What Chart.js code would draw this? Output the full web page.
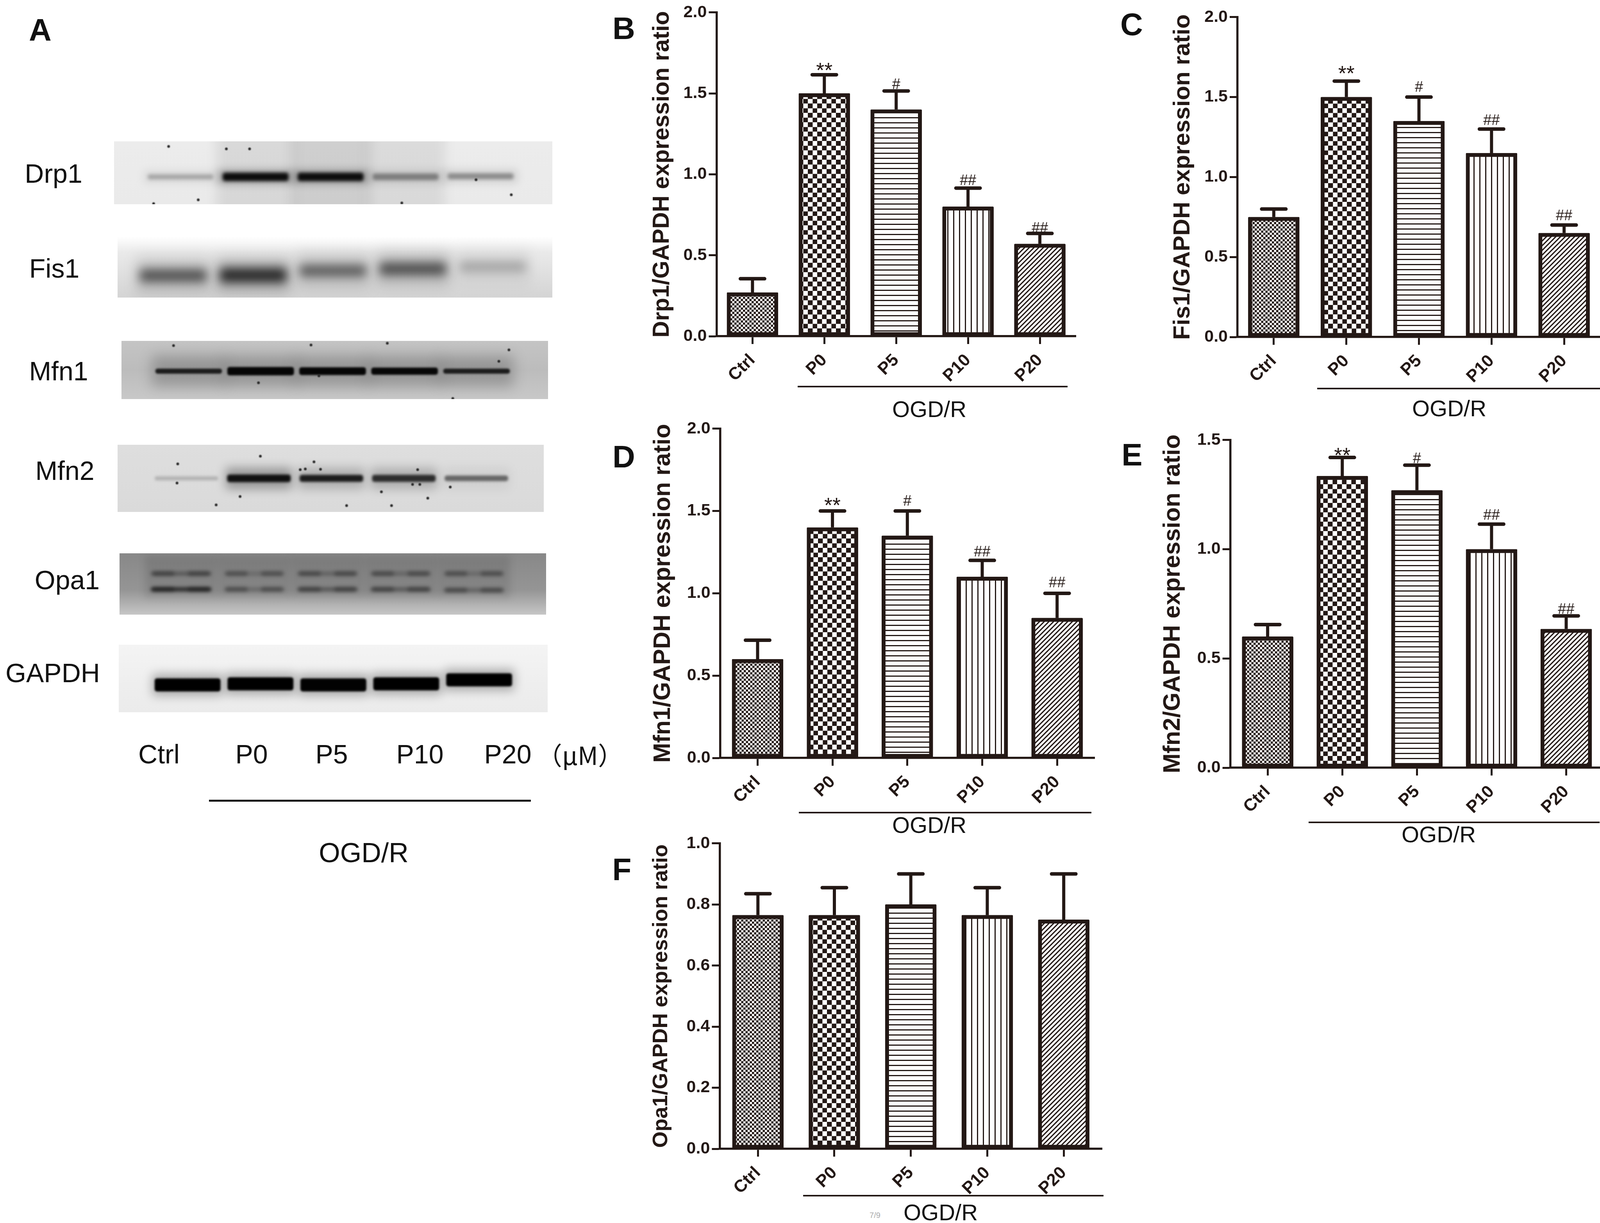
<!DOCTYPE html>
<html><head><meta charset="utf-8">
<style>
html,body{margin:0;padding:0;background:#fff}
#page{position:relative;width:4122px;height:3132px;overflow:hidden;background:#fff;font-family:"Liberation Sans",Arial,sans-serif;color:#111}
canvas{position:absolute;display:block}
.t{position:absolute;white-space:nowrap;line-height:1;transform:translateX(-50%)}
.l{position:absolute}
</style>
<script src="https://cdn.jsdelivr.net/npm/chart.js@4"></script>
</head><body><div id="page"></div>
<script>
// ---------- bar chart data ----------
const categories = ['Ctrl','P0','P5','P10','P20'];
const drp1Values = [0.27,1.50,1.40,0.80,0.57];
const drp1ErrTop = [0.355,1.615,1.515,0.915,0.635];
const fis1Values = [0.75,1.50,1.35,1.15,0.65];
const fis1ErrTop = [0.80,1.60,1.50,1.30,0.70];
const mfn1Values = [0.60,1.40,1.35,1.10,0.85];
const mfn1ErrTop = [0.715,1.50,1.50,1.20,1.00];
const mfn2Values = [0.60,1.335,1.27,1.00,0.635];
const mfn2ErrTop = [0.655,1.42,1.385,1.115,0.695];
const opa1Values = [0.765,0.765,0.80,0.765,0.75];
const opa1ErrTop = [0.835,0.855,0.90,0.855,0.90];
const sigMarks = ['','**','#','##','##'];
const noMarks = ['','','','',''];
const yLabelDrp1 = 'Drp1/GAPDH expression ratio';
const yLabelFis1 = 'Fis1/GAPDH expression ratio';
const yLabelMfn1 = 'Mfn1/GAPDH expression ratio';
const yLabelMfn2 = 'Mfn2/GAPDH expression ratio';
const yLabelOpa1 = 'Opa1/GAPDH expression ratio';

// ---------- western blot band data (lanes 1-5; y = fraction of strip height) ----------
const laneNumbers = [1,2,3,4,5];
const drp1Band = [.565,.565,.565,.565,.555];
const drp1Half = [.04,.065,.065,.05,.045];
const drp1Tone = ['#a6a6a6','#0c0c0c','#0c0c0c','#7c7c7c','#8c8c8c'];
const fis1Band = [.64,.635,.56,.53,.495];
const fis1Half = [.10,.115,.09,.10,.08];
const fis1Tone = ['#4e4e4e','#262626','#565656','#4a4a4a','#a0a0a0'];
const mfn1Band = [.52,.52,.52,.52,.52];
const mfn1Half = [.042,.07,.065,.06,.042];
const mfn1Tone = ['#1c1c1c','#050505','#050505','#070707','#1c1c1c'];
const mfn2Band = [.50,.50,.50,.50,.50];
const mfn2Half = [.03,.055,.05,.05,.04];
const mfn2Tone = ['#b4b4b4','#101010','#1c1c1c','#2c2c2c','#666666'];
const opa1BandUpper = [.33,.33,.33,.33,.33];
const opa1ToneUpper = ['#5c5c5c','#6c6c6c','#646464','#666666','#6a6a6a'];
const opa1BandLower = [.587,.587,.587,.587,.60];
const opa1ToneLower = ['#343434','#6c6c6c','#5c5c5c','#5e5e5e','#666666'];
const gapdhBand = [.595,.58,.595,.58,.52];
const gapdhTone = ['#000000','#000000','#020202','#000000','#000000'];
const drp1Spots = [[.84,.08],[1.61,.12],[1.92,.12],[.64,.99],[1.235,.93],[3.95,.98],[4.94,.61],[5.41,.85]];
const mfn1Spots = [[2.70,.07],[.79,.08],[1.97,.72],[5.45,.155],[3.76,.04],[2.81,.6],[5.31,.35],[4.67,.99]];
const mfn2Spots = [[.88,.285],[.87,.57],[2.76,.255],[2.57,.37],[2.64,.36],[2.85,.365],[3.69,.70],[4.33,.795],[4.64,.63],[1.74,.77],[1.41,.895],[4.12,.59],[4.22,.59],[4.19,.37],[3.21,.905],[3.83,.905],[2.02,.17]];

const INK = '#231815';
const page = document.getElementById('page');
Chart.defaults.font.family = '"Liberation Sans", Arial, sans-serif';
Chart.defaults.animation = false;
Chart.defaults.devicePixelRatio = 1;

// ---------- helpers ----------
function text(str, cx, cy, size, opts){
  opts = opts || {};
  const d = document.createElement('div');
  d.className = 't';
  d.textContent = str;
  d.style.left = cx+'px';
  d.style.top = (cy - 0.49*size)+'px';
  d.style.fontSize = size+'px';
  if(opts.bold) d.style.fontWeight = 'bold';
  if(opts.color) d.style.color = opts.color;
  if(opts.family) d.style.fontFamily = opts.family;
  page.appendChild(d);
}
function hline(x0,x1,y,w,color){
  const d = document.createElement('div');
  d.className='l';
  d.style.cssText += `left:${x0}px;top:${y-w/2}px;width:${x1-x0}px;height:${w}px;background:${color||INK}`;
  page.appendChild(d);
}
function tile(w,h,draw){
  const c = document.createElement('canvas'); c.width=w; c.height=h;
  const x = c.getContext('2d');
  x.fillStyle='#fff'; x.fillRect(0,0,w,h);
  x.fillStyle=INK; x.strokeStyle=INK;
  draw(x);
  return x.createPattern(c,'repeat');
}
function checker(n){ return tile(n*2,n*2,x=>{x.fillRect(0,0,n,n);x.fillRect(n,n,n,n);}); }
const fills = [
  checker(5.5),
  checker(12.4),
  tile(4,13,x=>x.fillRect(0,0,4,3)),
  tile(15,4,x=>x.fillRect(0,0,3,4)),
  tile(12,12,x=>{x.lineWidth=3.2;for(let i=-12;i<=24;i+=12){x.beginPath();x.moveTo(i-2,14);x.lineTo(i+14,-2);x.stroke();}})
];

// ---------- one bar panel ----------
function panel(p){
  const FONT=p.titleSize, left=p.titleCX-0.6*FONT, top=p.yTop-30, right=p.plotRight+22, bottom=p.y0+130;
  const c=document.createElement('canvas');
  c.width=Math.round(right-left); c.height=Math.round(bottom-top);
  c.style.left=left+'px'; c.style.top=top+'px';
  c.style.width=c.width+'px'; c.style.height=c.height+'px';
  page.appendChild(c);
  const errPlugin={id:'errBars',afterDatasetsDraw(ch){
    const g=ch.ctx,xs=ch.scales.x,ys=ch.scales.y;
    g.save();
    g.strokeStyle=INK; g.fillStyle=INK;
    p.errTop.forEach((e,i)=>{
      const x=xs.getPixelForValue(i),y=ys.getPixelForValue(e),v=ys.getPixelForValue(p.values[i]);
      g.lineCap='butt'; g.lineWidth=8; g.beginPath(); g.moveTo(x,v); g.lineTo(x,y); g.stroke();
      g.lineCap='round'; g.lineWidth=9; g.beginPath(); g.moveTo(x-31,y); g.lineTo(x+31,y); g.stroke();
      const m=p.marks[i];
      if(m){
        const star=m[0]==='*', size=star?54:38;
        g.font=`${size}px "Liberation Sans", Arial, sans-serif`;
        g.textAlign='center'; g.textBaseline='alphabetic';
        g.fillText(m,x+p.markDx,y-p.markGap[i]+(star?0.58:0.36)*size);
      }
    });
    g.restore();
  }};
  new Chart(c,{
    type:'bar',
    data:{labels:categories,datasets:[{data:p.values,backgroundColor:fills,borderColor:INK,borderWidth:10,borderSkipped:false,barThickness:131,borderRadius:2}]},
    plugins:[errPlugin],
    options:{
      responsive:false,maintainAspectRatio:false,
      layout:{autoPadding:false,padding:{top:30,right:22,left:0,bottom:0}},
      plugins:{legend:{display:false},tooltip:{enabled:false},title:{display:false}},
      scales:{
        x:{type:'category',offset:true,
          afterFit(s){s.height=130;},
          border:{color:INK,width:5.5},
          grid:{offset:false,drawOnChartArea:false,drawTicks:true,tickLength:20,tickWidth:5,tickColor:INK},
          ticks:{autoSkip:false,minRotation:45,maxRotation:45,padding:p.xPad||16,color:INK,font:{size:44,weight:'bold'}}
        },
        y:{type:'linear',min:0,max:p.max,
          afterFit(s){s.width=p.axisX-left;},
          title:{display:true,text:p.title,color:INK,font:{size:FONT,weight:'bold',lineHeight:1.2},padding:{top:0,bottom:0}},
          border:{color:INK,width:5.5},
          grid:{drawOnChartArea:false,drawTicks:true,tickLength:20,tickWidth:5,tickColor:INK},
          ticks:{stepSize:p.step,padding:5,color:INK,font:{size:43,weight:'bold'},callback:v=>v.toFixed(1)}
        }
      }
    }
  });
  hline(p.lineX0,p.lineX1,p.lineY,4.5);
  text('OGD/R',p.ogdX,p.ogdY,58);
}
panel({title:yLabelDrp1,values:drp1Values,errTop:drp1ErrTop,marks:sigMarks,markGap:[0,25,19,21,15],markDx:0,max:2,step:.5,
  axisX:1834,plotRight:2754,yTop:31,y0:861,titleCX:1695,titleSize:59,lineX0:2042,lineX1:2733,lineY:990,ogdX:2379,ogdY:1047});
panel({title:yLabelFis1,values:fis1Values,errTop:fis1ErrTop,marks:sigMarks,markGap:[0,33,27,24,26],markDx:0,max:2,step:.5,
  axisX:3168,plotRight:4097,yTop:43,y0:863,titleCX:3028,titleSize:60,lineX0:3372,lineX1:4099,lineY:995,ogdX:3710,ogdY:1045});
panel({title:yLabelMfn1,values:mfn1Values,errTop:mfn1ErrTop,marks:sigMarks,markGap:[0,28,27,24,29],markDx:0,max:2,step:.5,
  axisX:1844,plotRight:2802,yTop:1097,y0:1941,titleCX:1699,titleSize:61,lineX0:2045,lineX1:2794,lineY:2081,ogdX:2379,ogdY:2112});
panel({title:yLabelMfn2,values:mfn2Values,errTop:mfn2ErrTop,marks:sigMarks,markGap:[0,19,19,25,19],markDx:0,max:1.5,step:.5,
  axisX:3150,plotRight:4105,yTop:1126,y0:1966,titleCX:3004,titleSize:61,lineX0:3350,lineX1:4095,lineY:2106,ogdX:3683,ogdY:2136});
panel({title:yLabelOpa1,values:opa1Values,errTop:opa1ErrTop,marks:noMarks,markGap:[0,0,0,0,0],markDx:0,max:1,step:.2,
  axisX:1842,plotRight:2821,yTop:2159,y0:2942,titleCX:1693,titleSize:54,lineX0:2056,lineX1:2825,lineY:3062,ogdX:2408,ogdY:3104});
text('7/9',2240,3112,20,{color:'#aaaaaa'});

// ---------- western blot strips, each a small Chart.js chart ----------
function bandSet(bands,tones,half,thick,blur,order){
  return {type:'bar',grouped:false,barThickness:thick,borderRadius:6,borderSkipped:false,
    backgroundColor:tones,blur:blur,order:order||1,
    data:laneNumbers.map((n,i)=>{const h=Array.isArray(half)?half[i]:half;return {x:n,y:[bands[i]-h,bands[i]+h]};})};
}
function blobSet(bands,tone,half,blur){
  const data=[];
  laneNumbers.forEach((n,i)=>{data.push({x:n-.24,y:[bands[i]-half,bands[i]+half]},{x:n+.24,y:[bands[i]-half,bands[i]+half]});});
  return {type:'bar',grouped:false,barThickness:55,borderRadius:6,borderSkipped:false,backgroundColor:tone,blur:blur,order:1,data};
}
function blot(b){
  const c=document.createElement('canvas');
  c.width=b.x1-b.x0; c.height=b.y1-b.y0;
  c.style.left=b.x0+'px'; c.style.top=b.y0+'px';
  c.style.width=c.width+'px'; c.style.height=c.height+'px';
  page.appendChild(c);
  const plug={id:'blotPaint',
    beforeDatasetsDraw(ch){
      const g=ch.ctx,a=ch.chartArea,gr=g.createLinearGradient(0,a.top,0,a.bottom);
      b.stops.forEach(s=>gr.addColorStop(s[0],s[1]));
      g.save(); g.fillStyle=gr; g.fillRect(a.left,a.top,a.right-a.left,a.bottom-a.top); g.restore();
    },
    beforeDatasetDraw(ch,args){const bl=ch.data.datasets[args.index].blur; ch.ctx.filter=bl?`blur(${bl}px)`:'none';},
    afterDatasetDraw(ch){ch.ctx.filter='none';}
  };
  const sets=b.sets.slice();
  if(b.spots) sets.push({type:'scatter',data:b.spots.map(s=>({x:s[0],y:s[1]})),pointRadius:3.5,pointBackgroundColor:'#2a2a2a',pointBorderWidth:0,order:0,blur:1});
  new Chart(c,{type:'bar',data:{datasets:sets},plugins:[plug],options:{
    responsive:false,maintainAspectRatio:false,layout:{autoPadding:false,padding:0},
    plugins:{legend:{display:false},tooltip:{enabled:false}},
    scales:{x:{type:'linear',display:false,min:b.min,max:b.max},y:{type:'linear',display:false,min:0,max:1,reverse:true}}
  }});
}
const grey=(v,n)=>Array(n||5).fill(v);
blot({x0:292,x1:1414,y0:362,y1:523,min:.53,max:5.54,stops:[[0,'#ececec'],[1,'#eaeaea']],spots:drp1Spots,sets:[
  {type:'bar',grouped:false,barThickness:200,backgroundColor:['rgba(0,0,0,0)','rgba(0,0,0,.08)','rgba(0,0,0,.12)','rgba(0,0,0,.07)','rgba(0,0,0,.0)'],blur:14,order:3,data:laneNumbers.map(n=>({x:n,y:[-.2,1.2]}))},
  bandSet(drp1Band,['rgba(0,0,0,.06)','rgba(0,0,0,.28)','rgba(0,0,0,.28)','rgba(0,0,0,.10)','rgba(0,0,0,.10)'],.11,190,10,2),
  bandSet(drp1Band,drp1Tone,drp1Half,168,4,1)]});
blot({x0:301,x1:1414,y0:606,y1:762,min:.55,max:5.50,stops:[[0,'#ffffff'],[.25,'#eaeaea'],[1,'#d4d4d4']],sets:[
  bandSet(fis1Band,['rgba(0,0,0,.12)','rgba(0,0,0,.18)','rgba(0,0,0,.12)','rgba(0,0,0,.14)','rgba(0,0,0,.05)'],.30,190,16,2),
  bandSet(fis1Band,fis1Tone,fis1Half,170,13,1)]});
blot({x0:311,x1:1403,y0:873,y1:1022,min:.49,max:5.57,stops:[[0,'#c4c4c4'],[.5,'#bcbcbc'],[1,'#c8c8c8']],spots:mfn1Spots,sets:[
  bandSet(mfn1Band,grey('rgba(0,0,0,.2)'),.27,190,16,2),
  bandSet(mfn1Band,mfn1Tone,mfn1Half,170,2.5,1)]});
blot({x0:301,x1:1392,y0:1139,y1:1311,min:.47,max:5.51,stops:[[0,'#dedede'],[1,'#dadada']],spots:mfn2Spots,sets:[
  bandSet(mfn2Band,['rgba(0,0,0,0)','rgba(0,0,0,.3)','rgba(0,0,0,.2)','rgba(0,0,0,.2)','rgba(0,0,0,.05)'],.16,170,12,2),
  bandSet(mfn2Band,mfn2Tone,mfn2Half,162,3,1)]});
blot({x0:306,x1:1398,y0:1417,y1:1574,min:.575,max:5.57,stops:[[0,'#888888'],[.6,'#959595'],[1,'#c6c6c6']],sets:[
  {type:'bar',grouped:false,barThickness:185,backgroundColor:grey('rgba(0,0,0,.10)'),blur:9,order:3,data:laneNumbers.map(n=>({x:n,y:[.04,.72]}))},
  bandSet(opa1BandUpper,opa1ToneUpper,.035,155,4,2),
  bandSet(opa1BandLower,opa1ToneLower,.035,155,4,2),
  blobSet(opa1BandUpper,'rgba(0,0,0,.28)',.035,5),
  blobSet(opa1BandLower,'rgba(0,0,0,.28)',.035,5)]});
blot({x0:304,x1:1402,y0:1651,y1:1824,min:.476,max:5.52,stops:[[0,'#f4f4f4'],[.6,'#eeeeee'],[1,'#ebebeb']],sets:[
  bandSet(gapdhBand,grey('rgba(0,0,0,.28)'),.16,180,12,2),
  bandSet(gapdhBand,gapdhTone,.095,168,2.5,1)]});

// ---------- panel A text ----------
text('Drp1',137,443.5,68);
text('Fis1',139,686,68);
text('Mfn1',150,949,68);
text('Mfn2',166,1204,68);
text('Opa1',172,1484,68);
text('GAPDH',135,1722,68);
text('Ctrl',407,1930,68);
text('P0',644,1930,68);
text('P5',849,1930,68);
text('P10',1075,1930,68);
text('P20',1300,1930,68);
text('（μM）',1485,1930,64,{family:'"Noto Sans CJK SC","Liberation Sans"'});
hline(535,1359,2050,5,'#111');
text('OGD/R',931,2183,70);

// ---------- panel letters ----------
text('A',103,76,80,{bold:true});
text('B',1597,72,80,{bold:true});
text('C',2897,62,80,{bold:true});
text('D',1597,1169,80,{bold:true});
text('E',2898,1164,80,{bold:true});
text('F',1592,2226,80,{bold:true});
</script></body></html>
